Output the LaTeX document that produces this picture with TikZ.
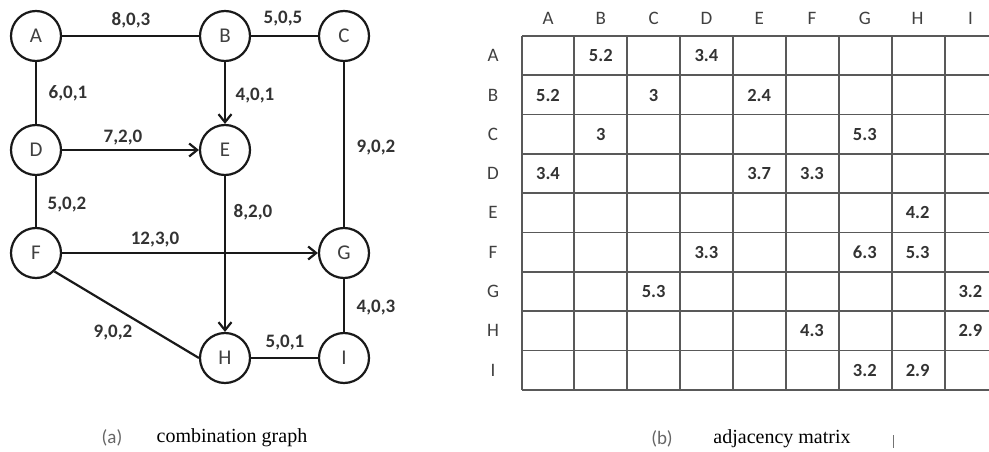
\documentclass[tikz,border=0pt]{standalone}
\usepackage{fontspec}
\setmainfont{Liberation Serif}
\newfontfamily\carlito{Carlito}
\usetikzlibrary{arrows.meta}
\tikzset{
  vtx/.style={circle,draw=black!90,line width=2.2pt,minimum size=50pt,inner sep=0pt,
    font=\carlito\fontsize{21}{21}\selectfont,text=black!75},
  elab/.style={font=\carlito\bfseries\fontsize{19}{19}\selectfont,text=black!80,inner sep=0pt},
  edgeline/.style={line width=2.2pt,draw=black!90},
  arrline/.style={edgeline,-{Straight Barb[length=8pt,width=13pt]}},
  hdr/.style={font=\carlito\fontsize{19}{19}\selectfont,text=black!75,inner sep=0pt},
  cell/.style={font=\carlito\bfseries\fontsize{18.5}{18.5}\selectfont,text=black!80,inner sep=0pt},
  gridline/.style={line width=1.8pt,draw=black!65},
  capsans/.style={font=\carlito\fontsize{19}{19}\selectfont,text=black!60,inner sep=0pt},
  capserif/.style={font=\fontsize{20}{20}\selectfont,text=black,inner sep=0pt}
}
\begin{document}
\begin{tikzpicture}[x=1pt,y=-1pt]
\useasboundingbox[fill=white] (0,0) rectangle (989,452);
% ---------- graph ----------
\node[vtx] (A) at (36,36) {A};
\node[vtx] (B) at (225,36) {B};
\node[vtx] (C) at (344,36) {C};
\node[vtx] (D) at (36,150) {D};
\node[vtx] (E) at (225,150) {E};
\node[vtx] (F) at (36,253) {F};
\node[vtx] (G) at (344,253) {G};
\node[vtx] (H) at (225,358) {H};
\node[vtx] (I) at (344,358) {I};

\draw[edgeline] (A) -- (B);
\draw[edgeline] (B) -- (C);
\draw[edgeline] (A) -- (D);
\draw[arrline] (B) -- (E);
\draw[arrline] (D) -- (E);
\draw[edgeline] (C) -- (G);
\draw[edgeline] (D) -- (F);
\draw[arrline] (E) -- (H);
\draw[arrline] (F) -- (G);
\draw[edgeline] (F.south east) -- (H.west);
\draw[edgeline] (G) -- (I);
\draw[edgeline] (H) -- (I);

\node[elab] (lAB) at (131,20) {8,0,3};
\node[elab] (lBC) at (283,19) {5,0,5};
\node[elab] (lAD) at (68,93) {6,0,1};
\node[elab] (lBE) at (255,96) {4,0,1};
\node[elab] (lDE) at (123,138) {7,2,0};
\node[elab] (lCG) at (376,148) {9,0,2};
\node[elab] (lDF) at (67,205) {5,0,2};
\node[elab] (lEH) at (253,212) {8,2,0};
\node[elab] (lFG) at (155,240) {12,3,0};
\node[elab] (lFH) at (113,333) {9,0,2};
\node[elab] (lGI) at (376,308) {4,0,3};
\node[elab] (lHI) at (285,343) {5,0,1};

% ---------- matrix ----------
\foreach \i in {0,...,9} {
  \draw[gridline] (522,{36+39.3*\i}) -- (992,{36+39.3*\i});
}
\foreach \x in {522,574,627,680,733,786,839,892,945} {
  \draw[gridline] (\x,36) -- (\x,390);
}
\foreach \n [count=\k from 0] in {A,B,C,D,E,F,G,H,I} {
  \node[hdr] (col\n) at ({548+52.8*\k},18) {\n};
  \node[hdr] (row\n) at (493,{55.7+39.3*\k}) {\n};
}
\foreach \r/\c/\v in {A/B/5.2, A/D/3.4,
  B/A/5.2, B/C/3, B/E/2.4,
  C/B/3, C/G/5.3,
  D/A/3.4, D/E/3.7, D/F/3.3,
  E/H/4.2,
  F/D/3.3, F/G/6.3, F/H/5.3,
  G/C/5.3, G/I/3.2,
  H/F/4.3, H/I/2.9,
  I/G/3.2, I/H/2.9} {
  \node[cell] (m\r\c) at (col\c |- row\r) {\v};
}

% ---------- captions ----------
\node[capsans] (capa) at (112,438) {(a)};
\node[capserif] (capta) at (232,438) {combination graph};
\node[capsans] (capb) at (662,439) {(b)};
\node[capserif] (captb) at (782,439) {adjacency matrix};
\coordinate (tickt) at (893,435);
\coordinate (tickb) at (893,448);
\draw[line width=0.8pt,draw=black!55] (tickt) -- (tickb);
\end{tikzpicture}
\end{document}
